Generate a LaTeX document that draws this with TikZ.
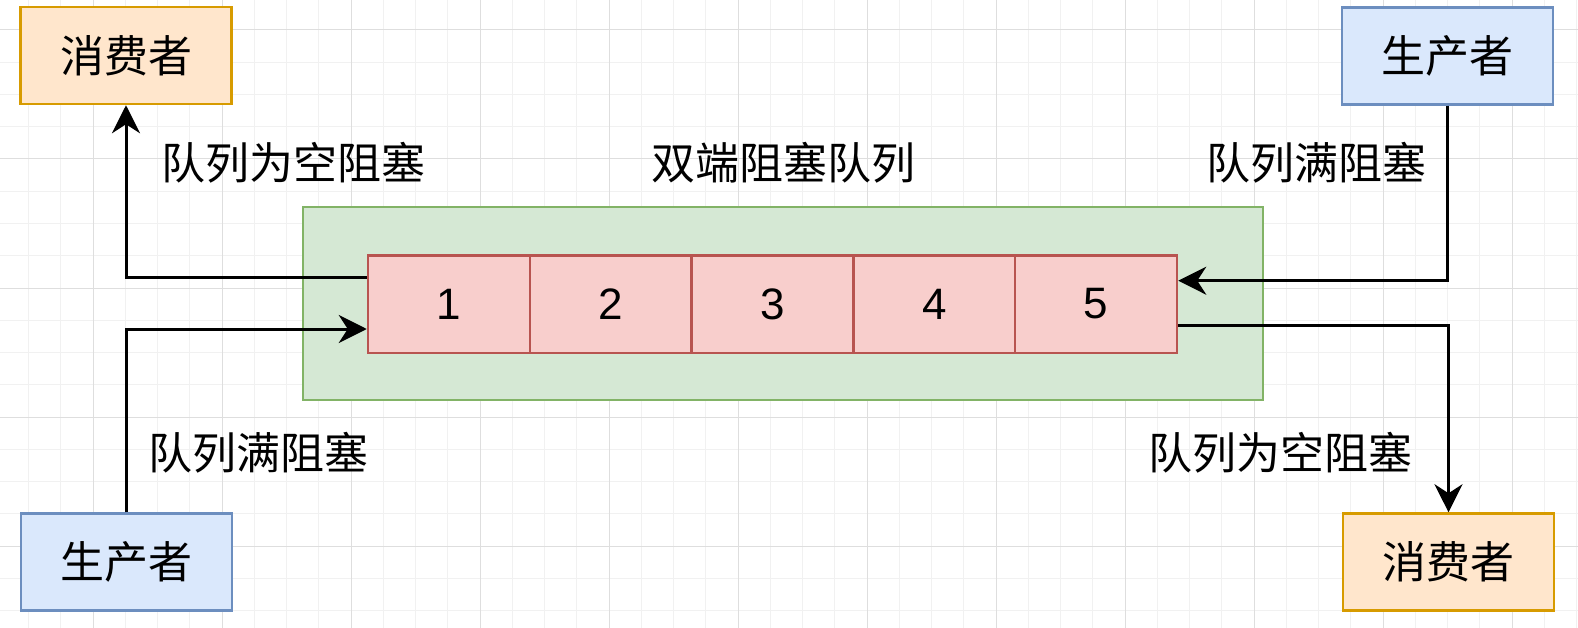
\documentclass[tikz,border=0pt]{standalone}
\usepackage{fontspec}
\setmainfont{Noto Sans CJK SC}
\newfontfamily\digitfont{Liberation Sans}
\usetikzlibrary{arrows.meta}
\definecolor{orfill}{HTML}{FFE6CC}\definecolor{ordraw}{HTML}{D79B00}
\definecolor{blfill}{HTML}{DAE8FC}\definecolor{bldraw}{HTML}{6C8EBF}
\definecolor{grfill}{HTML}{D5E8D4}\definecolor{grdraw}{HTML}{82B366}
\definecolor{rdfill}{HTML}{F8CECC}\definecolor{rddraw}{HTML}{B85450}
\definecolor{gridminor}{HTML}{F1F1F1}\definecolor{gridmajor}{HTML}{DEDEDE}
\tikzset{
  txt/.style={font=\fontsize{44}{50}\selectfont, inner sep=0pt},
  actor/.style={txt, draw, line width=2.5pt, minimum width=211pt, minimum height=97pt},
  consumer/.style={actor, fill=orfill, draw=ordraw},
  producer/.style={actor, fill=blfill, draw=bldraw},
  cell/.style={font=\digitfont\fontsize{44}{50}\selectfont, inner sep=0pt, draw=rddraw, fill=rdfill, line width=2.5pt, minimum width=161.8pt, minimum height=97.5pt},
  arr/.style={line width=3pt, -{Stealth[length=28pt, width=28pt, inset=9pt]}},
}
\begin{document}
\begin{tikzpicture}[x=1pt, y=-1pt]
\useasboundingbox (0,0) rectangle (1578,628);
\fill[white] (0,0) rectangle (1578,628);
% grid
\foreach \x in {28.5,60.75,...,1578} \draw[gridminor, line width=1pt] (\x,0) -- (\x,628);
\foreach \y in {30,62.25,...,628} \draw[gridminor, line width=1pt] (0,\y) -- (1578,\y);
\foreach \x in {93,222,...,1578} \draw[gridmajor, line width=1pt] (\x,0) -- (\x,628);
\foreach \y in {30,159,...,628} \draw[gridmajor, line width=1pt] (0,\y) -- (1578,\y);
% container
\node[draw=grdraw, fill=grfill, line width=2.5pt, minimum width=960pt, minimum height=193pt, inner sep=0pt] (queue) at (783,303.5) {};
\foreach \i/\xc in {1/448.9, 2/610.7, 3/772.5, 4/934.3, 5/1096.1}
  \node[cell] (cell\i) at (\xc,304) {\i};
% actors
\node[consumer] (c1) at (126,55.5) {消费者};
\node[producer] (p1) at (126.5,562) {生产者};
\node[producer] (p2) at (1447.5,56) {生产者};
\node[consumer] (c2) at (1448.5,562) {消费者};
% labels
\node[txt] (l1) at (293,163) {队列为空阻塞};
\node[txt] (title) at (783,163) {双端阻塞队列};
\node[txt] (l2) at (1316,163) {队列满阻塞};
\node[txt] (l3) at (258,453) {队列满阻塞};
\node[txt] (l4) at (1280,453) {队列为空阻塞};
% connectors
\draw[arr] ([yshift=-23pt]cell1.north west) -| (c1.south);
\draw[arr] (p1.north) |- ([yshift=-75pt]cell1.north west);
\draw[arr] (p2.south) |- ([yshift=-26.7pt]cell5.north east);
\draw[arr] ([yshift=-71pt]cell5.north east) -| (c2.north);
\end{tikzpicture}
\end{document}
